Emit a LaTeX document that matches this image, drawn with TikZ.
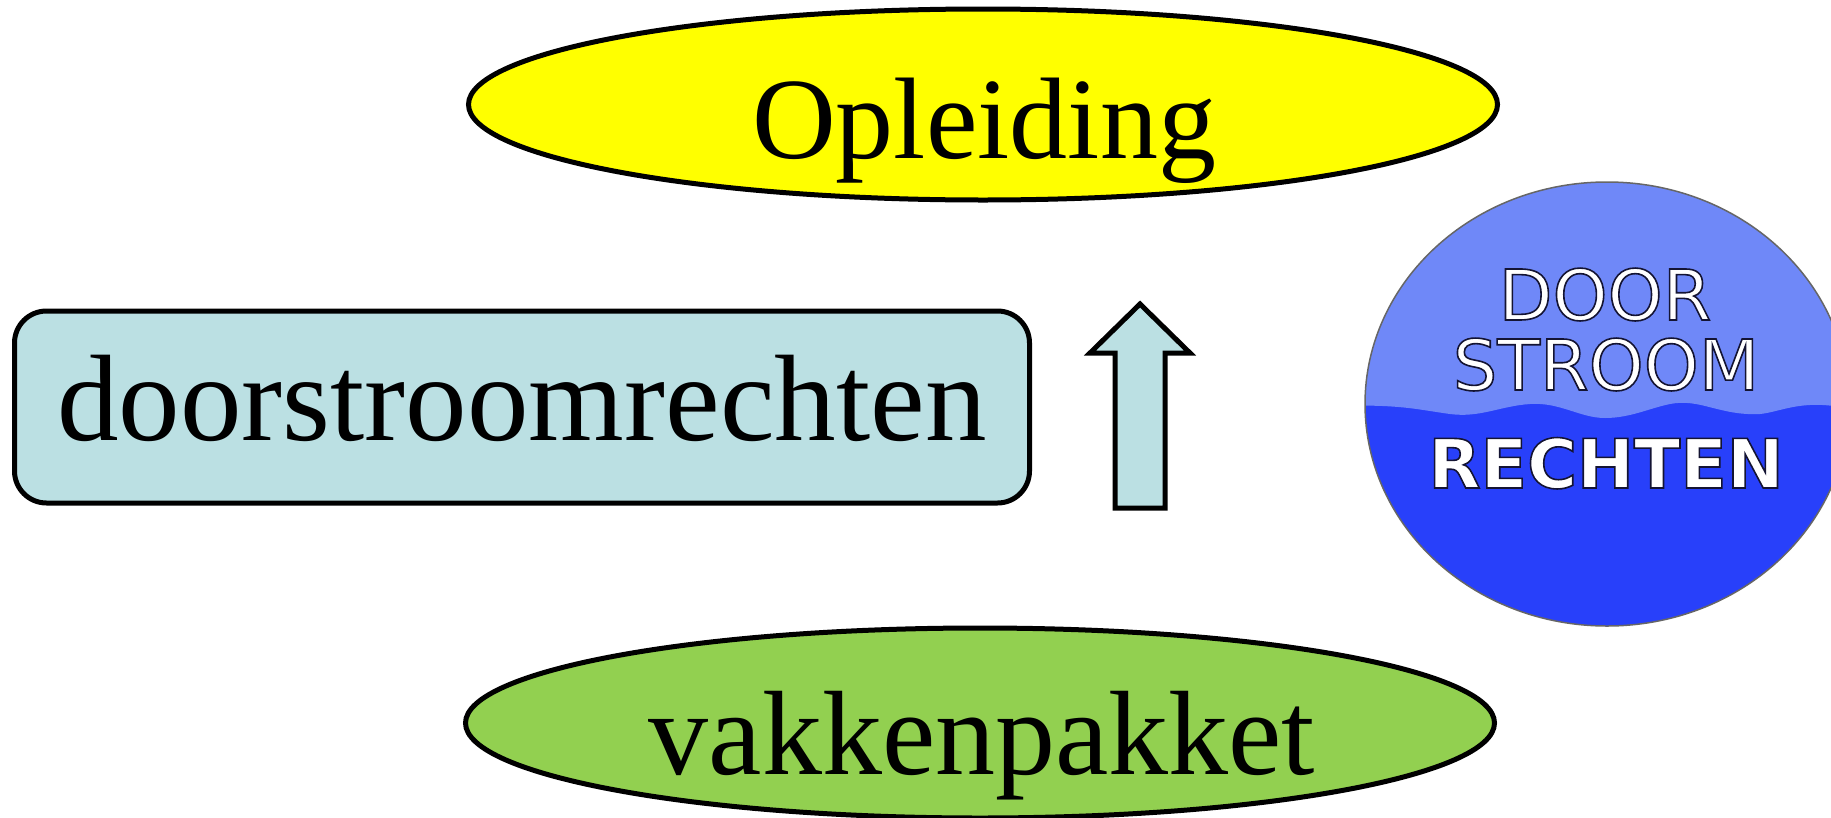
\documentclass[tikz,border=0pt]{standalone}
\usepackage{fontspec}
\setmainfont{Liberation Serif}
\newfontfamily\badgefont{DejaVu Sans}
\usetikzlibrary{shapes.geometric}
\definecolor{paleblue}{RGB}{187,224,227}
\definecolor{leaf}{RGB}{146,208,80}
\definecolor{sun}{RGB}{255,255,0}
\definecolor{badgelight}{RGB}{111,136,248}
\definecolor{badgedark}{RGB}{40,64,250}
\newcommand{\strokedtext}[1]{\special{pdf:code q 2 Tr 1.6 w 0.08 0.08 0.2 RG}#1\special{pdf:code Q}}
\tikzset{
  x=1pt,y=-1pt,
  outline/.style={draw=black,line width=5pt},
  oval/.style={outline,ellipse,minimum width=1029pt,minimum height=191pt,inner sep=0pt},
  bigtext/.style={anchor=base,inner sep=0pt},
  badgetext/.style={anchor=base,inner sep=0pt,text=white,font=\badgefont\fontsize{70}{76}\selectfont},
}
\begin{document}
\begin{tikzpicture}
\useasboundingbox (0,0) rectangle (1831,817);
\clip (0,0) rectangle (1831,817);
\node[oval,fill=sun] (top) at (983,104.5) {};
\node[oval,fill=leaf,minimum height=190pt] (bottom) at (980,723) {};
\node[outline,fill=paleblue,rounded corners=32pt,minimum width=1015pt,minimum height=192pt,inner sep=0pt] (box) at (522,407) {};
\node[bigtext,font=\fontsize{116}{125}\selectfont] (t1) at (984,158) {Opleiding};
\node[bigtext,font=\fontsize{120}{128}\selectfont] (t2) at (982,774) {vakkenpakket};
\node[bigtext,font=\fontsize{123}{132}\selectfont] (t3) at (522,440) {doorstroomrechten};
\draw[outline,fill=paleblue,line join=miter]
  (1115,508) -- (1165,508) -- (1165,353) -- (1190,353) -- (1140,304) -- (1090,353) -- (1115,353) -- cycle;
\begin{scope}
\clip (1607,404) ellipse [x radius=242pt,y radius=222pt];
\fill[badgedark] (1340,170) rectangle (1840,640);
\fill[badgelight] (1340,170) -- (1840,170) -- (1840,407)
  .. controls (1800,400) and (1780,412) .. (1760,414)
  .. controls (1720,416) and (1700,398) .. (1670,404)
  .. controls (1650,408) and (1630,418) .. (1605,418)
  .. controls (1580,418) and (1560,402) .. (1530,404)
  .. controls (1500,406) and (1480,418) .. (1450,414)
  .. controls (1420,410) and (1400,404) .. (1340,406) -- cycle;
\end{scope}
\draw[gray!80!black,line width=1.5pt] (1607,404) ellipse [x radius=242pt,y radius=222pt];
\node[badgetext] (b1) at (1605,320) {\strokedtext{DOOR}};
\node[badgetext] (b2) at (1606,390) {\strokedtext{STROOM}};
\node[badgetext,font=\badgefont\bfseries\fontsize{68}{72}\selectfont] (b3) at (1606,488) {\strokedtext{RECHTEN}};
\end{tikzpicture}
\end{document}
